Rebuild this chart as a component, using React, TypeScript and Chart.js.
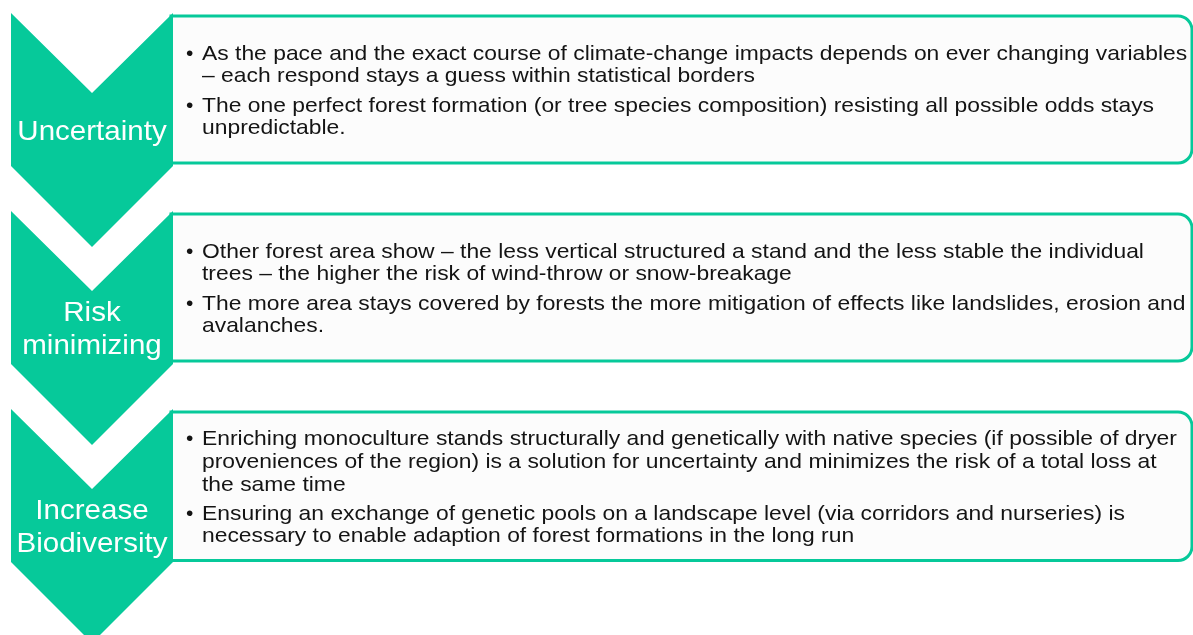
import React, { useEffect, useRef } from "react";
import { Chart, registerables } from "chart.js";

Chart.register(...registerables);

const stageLabels: string[][] = [["Uncertainty"], ["Risk", "minimizing"], ["Increase", "Biodiversity"]];

const box1Bullets: string[][] = [
  [
    "As the pace and the exact course of climate-change impacts depends on ever changing variables",
    "– each respond stays a guess within statistical borders",
  ],
  [
    "The one perfect forest formation (or tree species composition) resisting all possible odds stays",
    "unpredictable.",
  ],
];

const box2Bullets: string[][] = [
  [
    "Other forest area show – the less vertical structured a stand and the less stable the individual",
    "trees – the higher the risk of wind-throw or snow-breakage",
  ],
  [
    "The more area stays covered by forests the more mitigation of effects like landslides, erosion and",
    "avalanches.",
  ],
];

const box3Bullets: string[][] = [
  [
    "Enriching monoculture stands structurally and genetically with native species (if possible of dryer",
    "proveniences of the region) is a solution for uncertainty and minimizes the risk of a total loss at",
    "the same time",
  ],
  [
    "Ensuring an exchange of genetic pools on a landscape level (via corridors and nurseries) is",
    "necessary to enable adaption of forest formations in the long run",
  ],
];

const stageBullets = [box1Bullets, box2Bullets, box3Bullets];

const TEAL = "#06C99A";
const W = 1193;
const H = 635;

function scaledText(ctx: CanvasRenderingContext2D, t: string, x: number, y: number, sx: number) {
  ctx.save();
  ctx.translate(x, y);
  ctx.scale(sx, 1);
  ctx.fillText(t, 0, 0);
  ctx.restore();
}

const diagramPlugin = {
  id: "chevronList",
  afterDraw(chart: any) {
    const { ctx, scales } = chart;
    const xs = scales.x;
    const ys = scales.y;
    const px = (v: number) => xs.getPixelForValue(v);
    const py = (v: number) => ys.getPixelForValue(v);
    const step = 198;

    ctx.save();
    stageLabels.forEach((label, i) => {
      // box
      const bTop = 16 + i * step;
      const bH = i === 2 ? 148.5 : 147;
      const bL = 171;
      const bR = 1192;
      const r = 14;
      ctx.beginPath();
      ctx.moveTo(px(bL), py(bTop));
      ctx.lineTo(px(bR - r), py(bTop));
      ctx.arcTo(px(bR), py(bTop), px(bR), py(bTop + r), r);
      ctx.lineTo(px(bR), py(bTop + bH - r));
      ctx.arcTo(px(bR), py(bTop + bH), px(bR - r), py(bTop + bH), r);
      ctx.lineTo(px(bL), py(bTop + bH));
      ctx.closePath();
      ctx.fillStyle = "#FCFCFC";
      ctx.fill();
      ctx.lineWidth = 3;
      ctx.strokeStyle = TEAL;
      ctx.stroke();

      // chevron
      const cTop = 13 + i * step;
      const cL = 11;
      const cR = 173;
      const cX = 92;
      const notch = 80;
      const body = 153;
      const tip = 81;
      ctx.beginPath();
      ctx.moveTo(px(cL), py(cTop));
      ctx.lineTo(px(cX), py(cTop + notch));
      ctx.lineTo(px(cR), py(cTop));
      ctx.lineTo(px(cR), py(cTop + body));
      ctx.lineTo(px(cX), py(cTop + body + tip));
      ctx.lineTo(px(cL), py(cTop + body));
      ctx.closePath();
      ctx.fillStyle = TEAL;
      ctx.fill();

      // chevron label
      ctx.fillStyle = "#FFFFFF";
      ctx.font = "28px 'Liberation Sans', Arial, sans-serif";
      ctx.textAlign = "center";
      ctx.textBaseline = "alphabetic";
      const lblCenter = (cTop + notch + cTop + body) / 2;
      const lblGap = 33;
      const firstL = lblCenter - ((label.length - 1) * lblGap) / 2 + 10;
      label.forEach((t, k) => {
        scaledText(ctx, t, px(cX), py(firstL + k * lblGap), 1.055);
      });

      // bullets
      const bullets = stageBullets[i];
      const lineGap = 22.6;
      const paraGap = 6.5;
      const nLines = bullets.reduce((s, b) => s + b.length, 0);
      const blockH = (nLines - 1) * lineGap + (bullets.length - 1) * paraGap;
      let y = bTop + bH / 2 - blockH / 2 + 7.5;
      ctx.fillStyle = "#141414";
      ctx.font = "21px 'Liberation Sans', Arial, sans-serif";
      ctx.textAlign = "left";
      bullets.forEach((b) => {
        ctx.fillText("•", px(186), py(y));
        b.forEach((line) => {
          scaledText(ctx, line, px(202), py(y), 1.089);
          y += lineGap;
        });
        y += paraGap;
      });
    });
    ctx.restore();
  },
};

export default function App() {
  const ref = useRef<HTMLCanvasElement | null>(null);
  useEffect(() => {
    document.body.style.margin = "0";
    const canvas = ref.current;
    if (!canvas) return;
    const chart = new Chart(canvas, {
      type: "scatter",
      data: { datasets: [{ data: [], pointRadius: 0 }] },
      options: {
        animation: false,
        responsive: false,
        devicePixelRatio: 1,
        layout: { padding: 0 },
        plugins: { legend: { display: false }, tooltip: { enabled: false } },
        scales: {
          x: { type: "linear", min: 0, max: W, display: false },
          y: { type: "linear", min: 0, max: H, reverse: true, display: false },
        },
      },
      plugins: [diagramPlugin],
    });
    return () => chart.destroy();
  }, []);
  return (
    <div style={{ width: W, height: H, background: "#FFFFFF" }}>
      <canvas ref={ref} width={W} height={H} style={{ display: "block" }} />
    </div>
  );
}
